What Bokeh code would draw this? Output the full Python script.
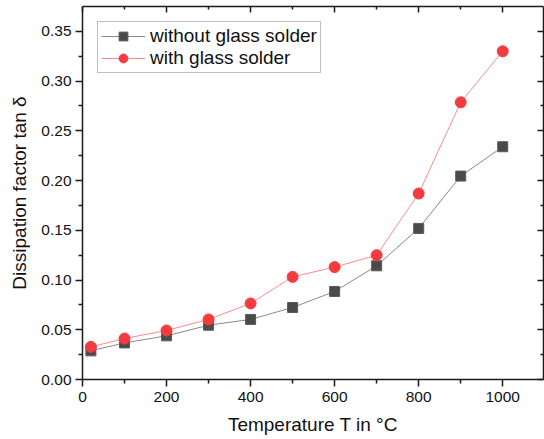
from bokeh.plotting import figure
from bokeh.models import LinearAxis, Range1d, FixedTicker, Legend
from bokeh.embed import file_html
from bokeh.resources import INLINE

temps = [20, 100, 200, 300, 400, 500, 600, 700, 800, 900, 1000]
without_solder = [0.0288, 0.0368, 0.0439, 0.0546, 0.0604, 0.0724, 0.0885, 0.1143, 0.1519, 0.2045, 0.2340]
with_solder = [0.0328, 0.0412, 0.0493, 0.0604, 0.0765, 0.1032, 0.1130, 0.1250, 0.1870, 0.2787, 0.3300]
x_ticks = [0, 200, 400, 600, 800, 1000]
y_ticks = [0.00, 0.05, 0.10, 0.15, 0.20, 0.25, 0.30, 0.35]
x_minor = [100, 300, 500, 700, 900]
y_minor = [0.025, 0.075, 0.125, 0.175, 0.225, 0.275, 0.325]

FONT = "Liberation Sans"
AX = "#1a1a1a"

p = figure(width=544, height=439, output_backend="svg", toolbar_location=None,
           x_range=Range1d(0, 1097), y_range=Range1d(0, 0.375),
           min_border_left=82, min_border_right=1, min_border_top=6, min_border_bottom=60,
           x_axis_label="Temperature T in °C", y_axis_label="Dissipation factor tan δ")
p.grid.visible = False
p.outline_line_color = None
p.background_fill_color = "white"
p.border_fill_color = "white"

r1l = p.line(temps, without_solder, line_color="#8a8a8a", line_width=1)
r1m = p.scatter(temps, without_solder, marker="square", size=10, fill_color="#4a4a4a", line_color="#5a5a5a")
r2l = p.line(temps, with_solder, line_color="#ff8a8a", line_width=1)
r2m = p.scatter(temps, with_solder, marker="circle", size=11, fill_color="#f43c40", line_color="#f43c40")

def style(ax, labels=True, inward=False):
    ax.axis_line_color = AX
    ax.axis_line_width = 1.5
    ax.major_tick_line_color = AX
    ax.minor_tick_line_color = AX
    ax.major_tick_line_width = 1.5
    ax.minor_tick_line_width = 1.5
    if inward:
        ax.major_tick_in, ax.major_tick_out = 6, 0
        ax.minor_tick_in, ax.minor_tick_out = 3, 0
    else:
        ax.major_tick_in, ax.major_tick_out = 0, 7
        ax.minor_tick_in, ax.minor_tick_out = 0, 4
    if labels:
        ax.major_label_text_font = FONT
        ax.major_label_text_font_size = "15.5px"
        ax.major_label_text_color = "#111111"
        ax.axis_label_text_font = FONT
        ax.axis_label_text_font_size = "19px"
        ax.axis_label_text_font_style = "normal"
        ax.axis_label_text_color = "#111111"
    else:
        ax.major_label_text_font_size = "0px"
        ax.major_label_standoff = 0
        ax.major_label_text_color = None

p.xaxis.ticker = FixedTicker(ticks=x_ticks, minor_ticks=x_minor)
p.yaxis.ticker = FixedTicker(ticks=y_ticks, minor_ticks=y_minor)
p.xaxis.major_label_overrides = {t: str(t) for t in x_ticks}
p.yaxis.major_label_overrides = {t: f"{t:.2f}" for t in y_ticks}
style(p.xaxis[0])
style(p.yaxis[0])
p.xaxis.major_label_standoff = 5
p.xaxis.axis_label_standoff = 9
p.yaxis.major_label_standoff = 4
p.yaxis.axis_label_standoff = 8

top = LinearAxis(ticker=FixedTicker(ticks=x_ticks, minor_ticks=x_minor))
right = LinearAxis(ticker=FixedTicker(ticks=y_ticks, minor_ticks=y_minor))
style(top, labels=False, inward=True)
style(right, labels=False, inward=True)
p.add_layout(top, "above")
p.add_layout(right, "right")

legend = Legend(items=[("without glass solder", [r1l, r1m]), ("with glass solder", [r2l, r2m])],
                location="top_left")
legend.margin = 15
legend.padding = 3
legend.spacing = 0
legend.glyph_width = 44
legend.glyph_height = 22
legend.label_height = 22
legend.label_standoff = 5
legend.label_text_font = FONT
legend.label_text_font_size = "19px"
legend.label_text_color = "#111111"
legend.border_line_color = "#808080"
legend.border_line_width = 1
legend.background_fill_alpha = 1
p.add_layout(legend, "center")

open("out.html", "w").write(file_html(p, INLINE))
